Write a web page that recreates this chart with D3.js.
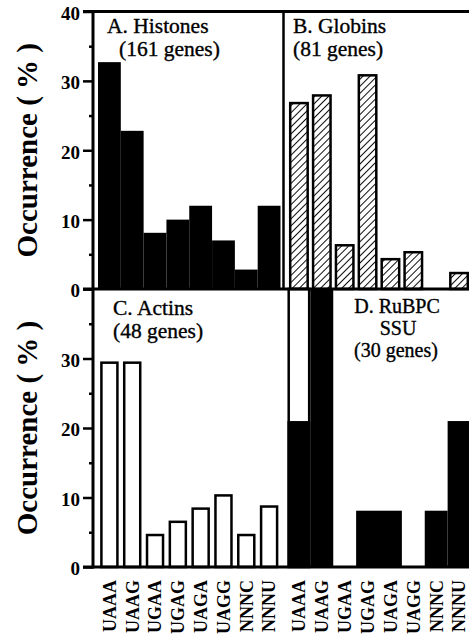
<!DOCTYPE html>
<html>
<head>
<meta charset="utf-8">
<script src="https://cdn.jsdelivr.net/npm/d3@7"></script>
<style>
  body { margin: 0; background: #fff; }
  text { font-family: "Liberation Serif", "Times New Roman", serif; fill: #000; }
</style>
</head>
<body>
<script>
// Stop codon context occurrence, four gene families

const codons = ["UAAA", "UAAG", "UGAA", "UGAG", "UAGA", "UAGG", "NNNC", "NNNU"];

const histones = [32.7, 22.8, 8.1, 10.0, 12.0, 7.0, 2.8, 12.0];
const globins = [26.8, 27.9, 6.3, 30.8, 4.3, 5.3, 0, 2.3];
const actins = [29.4, 29.4, 4.6, 6.5, 8.4, 10.3, 4.6, 8.7];
const rubpc = [21.0, 40.0, 0, 8.1, 8.1, 0, 8.1, 21.0];
// open (unfilled) part of the RuBPC UAAA bar, runs off the scale
const rubpcOpen = [40, 0, 0, 0, 0, 0, 0, 0];

const majorTicks = [0, 10, 20, 30, 40];
const minorTicks = [5, 15, 25, 35];

const W = 469, H = 636;

const svg = d3.select("body")
    .append("svg")
    .attr("width", W)
    .attr("height", H);

// diagonal hatching for the globin bars
svg.append("defs")
    .append("pattern")
    .attr("id", "hatch")
    .attr("patternUnits", "userSpaceOnUse")
    .attr("width", 5)
    .attr("height", 5)
    .attr("patternTransform", "rotate(45)")
    .append("line")
    .attr("x1", 0).attr("y1", 0)
    .attr("x2", 0).attr("y2", 5)
    .attr("stroke", "#000")
    .attr("stroke-width", 1.9);

// scales
const yTop = d3.scaleLinear().domain([0, 40]).range([289, 11.5]);
const yBot = d3.scaleLinear().domain([0, 40]).range([567, 289]);
const xLeft = d3.scaleBand().domain(codons).range([98, 280.5]);
const xRight = d3.scaleBand().domain(codons).range([287.5, 470.5]);

const axisX = 93;

// bars
function bars(values, x, y, opts) {
    const inset = opts.inset || 0;
    svg.append("g")
        .selectAll("rect")
        .data(codons.map((c, i) => ({ codon: c, value: values[i] })).filter(d => d.value > 0))
        .join("rect")
        .attr("x", d => x(d.codon) + inset)
        .attr("width", x.bandwidth() - 2 * inset)
        .attr("y", d => y(d.value))
        .attr("height", d => y(0) - y(d.value))
        .attr("fill", opts.fill)
        .attr("stroke", opts.stroke || "none")
        .attr("stroke-width", opts.stroke ? 2.5 : 0);
}

bars(histones, xLeft, yTop, { fill: "#000" });
bars(globins, xRight, yTop, { fill: "url(#hatch)", stroke: "#000", inset: 2.7 });
bars(actins, xLeft, yBot, { fill: "#fff", stroke: "#000", inset: 3.4 });
bars(rubpcOpen, xRight, yBot, { fill: "#fff", stroke: "#000", inset: 1.2 });
bars(rubpc, xRight, yBot, { fill: "#000" });

// frame lines
const frame = svg.append("g").attr("stroke", "#000").attr("stroke-width", 3);
frame.append("line").attr("x1", 83).attr("x2", W).attr("y1", yTop(40)).attr("y2", yTop(40));
frame.append("line").attr("x1", 83).attr("x2", W).attr("y1", yTop(0)).attr("y2", yTop(0));
frame.append("line").attr("x1", 83).attr("x2", W).attr("y1", yBot(0)).attr("y2", yBot(0));
frame.append("line").attr("x1", axisX).attr("x2", axisX).attr("y1", yTop(40) - 1.5).attr("y2", yBot(0) + 1.5);
frame.append("line").attr("x1", 283.5).attr("x2", 283.5).attr("y1", yTop(40)).attr("y2", yTop(0))
    .attr("stroke-width", 2.5);

// axes
function yAxis(y, labelled) {
    const major = d3.axisLeft(y)
        .tickValues(majorTicks)
        .tickSize(10)
        .tickPadding(3)
        .tickFormat(d => labelled.includes(d) ? d : "");
    const gMaj = svg.append("g").attr("transform", `translate(${axisX},0)`).call(major);
    gMaj.select(".domain").remove();
    gMaj.selectAll(".tick line").attr("stroke", "#000").attr("stroke-width", 2.5);
    gMaj.selectAll(".tick text")
        .attr("font-family", "Liberation Serif")
        .attr("font-weight", "bold")
        .attr("font-size", 19)
        .attr("dy", "0.42em");

    const minor = d3.axisLeft(y).tickValues(minorTicks).tickSize(4).tickFormat("");
    const gMin = svg.append("g").attr("transform", `translate(${axisX},0)`).call(minor);
    gMin.select(".domain").remove();
    gMin.selectAll(".tick line").attr("stroke", "#000").attr("stroke-width", 2.5);
}

yAxis(yTop, [0, 10, 20, 30, 40]);
yAxis(yBot, [0, 10, 20, 30]);

// y titles
[yTop, yBot].forEach(y => {
    svg.append("text")
        .attr("transform", `translate(37,${(y(0) + y(40)) / 2}) rotate(-90)`)
        .attr("text-anchor", "middle")
        .attr("font-weight", "bold")
        .attr("font-size", 29)
        .text("Occurrence ( % )");
});

// panel titles
function title(lines, x, y0, anchor, size) {
    const t = svg.append("text")
        .attr("font-size", size || 21.5)
        .attr("stroke", "#000")
        .attr("stroke-width", 0.35)
        .attr("text-anchor", anchor || "start");
    lines.forEach((s, i) => {
        t.append("tspan")
            .attr("x", x[i])
            .attr("y", y0[i])
            .text(s);
    });
}

title(["A. Histones", "(161 genes)"], [107, 119], [33, 56]);
title(["B. Globins", "(81 genes)"], [293, 293], [33, 56]);
title(["C. Actins", "(48 genes)"], [113, 113], [315, 338]);
title(["D. RuBPC", "SSU", "(30 genes)"], [397, 398, 396], [313, 335, 357], "middle", 20);

// codon labels under the bottom panels
[xLeft, xRight].forEach(x => {
    svg.append("g")
        .selectAll("text")
        .data(codons)
        .join("text")
        .attr("transform", d => `translate(${x(d) + x.bandwidth() / 2},580) rotate(-90)`)
        .attr("text-anchor", "end")
        .attr("dy", "0.35em")
        .attr("font-weight", "bold")
        .attr("font-size", 18)
        .text(d => d);
});
</script>
</body>
</html>
